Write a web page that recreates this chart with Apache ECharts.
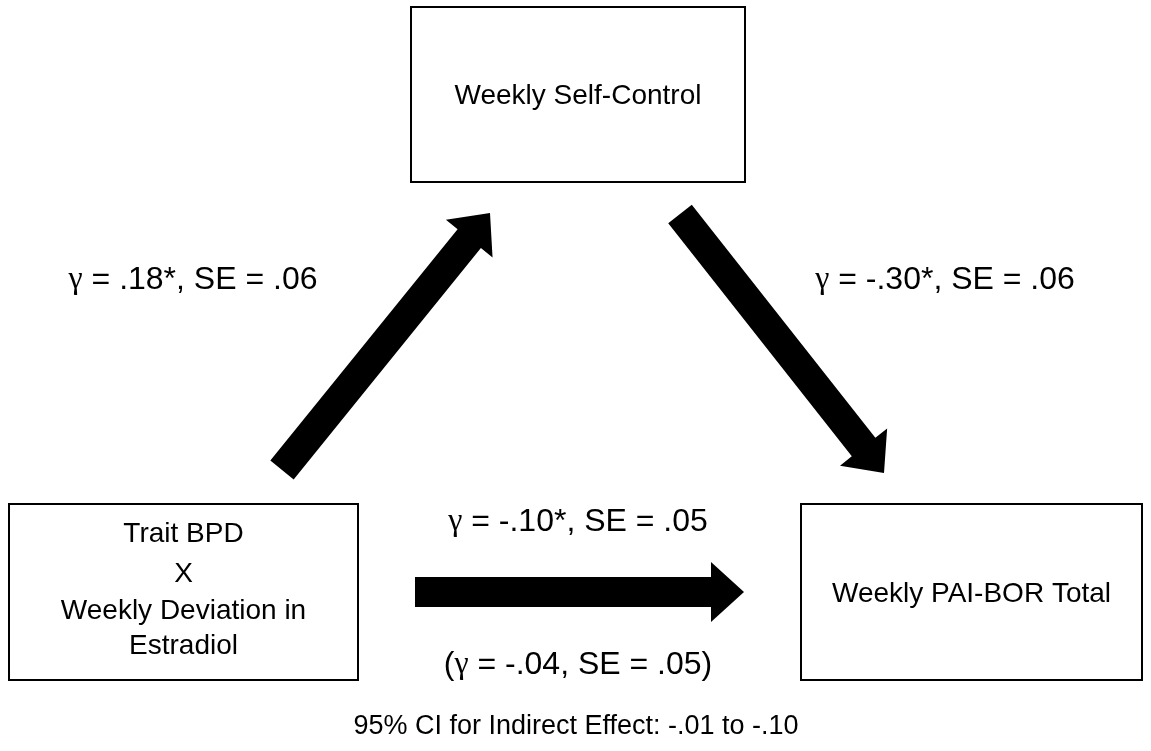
<!DOCTYPE html>
<html>
<head>
<meta charset="utf-8">
<title>Mediation model</title>
<script src="https://cdn.jsdelivr.net/npm/echarts@6/dist/echarts.min.js"></script>
<style>
  html, body { margin: 0; padding: 0; background: #fff; }
  #chart { width: 1151px; height: 751px; }
</style>
</head>
<body>
<div id="chart"></div>
<script>
// variables in the model (one entry per text line)
var nodeNames = [
  ['Weekly Self-Control'],
  ['Trait BPD', 'X', 'Weekly Deviation in', 'Estradiol'],
  ['Weekly PAI-BOR Total']
];
// paths: a (X -> M), b (M -> Y), c total (X -> Y)
var pathGamma = ['.18*', '-.30*', '-.10*'];
var pathSE = ['.06', '.06', '.05'];
// direct effect controlling for the mediator
var directGamma = '-.04';
var directSE = '.05';
var ciLow = '-.01';
var ciHigh = '-.10';

// layout, in page pixels (x right, y down)
var boxLayout = [
  [411, 7, 745, 182],
  [9, 504, 358, 680],
  [801, 504, 1142, 680]
];
// vertical offset of each text line from the box centre
var lineOffsets = [[2], [-58, -18, 19, 54], [2]];
var arrowLayout = [
  // tail x, tail y, tip x, tip y
  [282, 470, 490, 213],
  [680, 214, 884, 473],
  [415, 592, 744, 592]
];
var pathLabelPos = [[193, 280], [945, 280], [578, 522]];
var directLabelPos = [578, 665];
var ciLabelPos = [576, 727];

var FONT = '"Liberation Sans", Arial, sans-serif';
var BOX_FS = 28;
var LABEL_FS = 32;
var NOTE_FS = 27;

var chart = echarts.init(document.getElementById('chart'));

function arrowPoints(p0, p1) {
  var dx = p1[0] - p0[0], dy = p1[1] - p0[1];
  var len = Math.sqrt(dx * dx + dy * dy);
  var ux = dx / len, uy = dy / len;
  var nx = -uy, ny = ux;
  var w = 15, hw = 30, hl = 33;
  var bx = p1[0] - ux * hl, by = p1[1] - uy * hl;
  return [
    [p0[0] + nx * w, p0[1] + ny * w],
    [bx + nx * w, by + ny * w],
    [bx + nx * hw, by + ny * hw],
    [p1[0], p1[1]],
    [bx - nx * hw, by - ny * hw],
    [bx - nx * w, by - ny * w],
    [p0[0] - nx * w, p0[1] - ny * w]
  ];
}

var richStyles = {
  t: { fontFamily: FONT, fontSize: LABEL_FS, color: '#000' },
  g: { fontFamily: '"Liberation Serif", serif', fontSize: LABEL_FS, color: '#000' },
  n: { fontFamily: FONT, fontSize: NOTE_FS, color: '#000' }
};

var labelTexts = pathGamma.map(function (g, i) {
  return '{g|γ}{t| = ' + g + ', SE = ' + pathSE[i] + '}';
}).concat([
  '{t|(}{g|γ}{t| = ' + directGamma + ', SE = ' + directSE + ')}',
  '{n|95% CI for Indirect Effect: ' + ciLow + ' to ' + ciHigh + '}'
]);
var labelPos = pathLabelPos.concat([directLabelPos, ciLabelPos]);

var option = {
  animation: false,
  backgroundColor: '#fff',
  grid: { left: 0, right: 0, top: 0, bottom: 0 },
  xAxis: { type: 'value', min: 0, max: 1151, show: false },
  yAxis: { type: 'value', min: 0, max: 751, inverse: true, show: false },
  series: [
    {
      type: 'custom',
      name: 'arrows',
      data: arrowLayout,
      encode: { x: [0, 2], y: [1, 3] },
      renderItem: function (params, api) {
        var p0 = api.coord([api.value(0), api.value(1)]);
        var p1 = api.coord([api.value(2), api.value(3)]);
        return {
          type: 'polygon',
          shape: { points: arrowPoints(p0, p1) },
          style: { fill: '#000' }
        };
      }
    },
    {
      type: 'custom',
      name: 'boxes',
      data: boxLayout,
      encode: { x: [0, 2], y: [1, 3] },
      renderItem: function (params, api) {
        var a = api.coord([api.value(0), api.value(1)]);
        var b = api.coord([api.value(2), api.value(3)]);
        var cx = (a[0] + b[0]) / 2, cy = (a[1] + b[1]) / 2;
        var i = params.dataIndex;
        var children = [{
          type: 'rect',
          shape: { x: a[0], y: a[1], width: b[0] - a[0], height: b[1] - a[1] },
          style: { fill: '#fff', stroke: '#000', lineWidth: 2 }
        }];
        nodeNames[i].forEach(function (line, k) {
          children.push({
            type: 'text',
            x: cx,
            y: cy + lineOffsets[i][k],
            style: {
              text: line,
              fontFamily: FONT,
              fontSize: BOX_FS,
              fill: '#000',
              align: 'center',
              verticalAlign: 'middle'
            }
          });
        });
        return { type: 'group', children: children };
      }
    },
    {
      type: 'custom',
      name: 'labels',
      data: labelPos,
      encode: { x: 0, y: 1 },
      renderItem: function (params, api) {
        var p = api.coord([api.value(0), api.value(1)]);
        return {
          type: 'text',
          x: p[0],
          y: p[1],
          style: {
            text: labelTexts[params.dataIndex],
            rich: richStyles,
            align: 'center',
            verticalAlign: 'middle'
          }
        };
      }
    }
  ]
};

chart.setOption(option);
</script>
</body>
</html>
